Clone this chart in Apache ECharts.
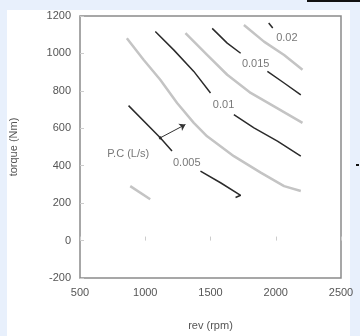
<!DOCTYPE html>
<html>
<head>
<meta charset="utf-8">
<script src="https://cdn.jsdelivr.net/npm/echarts@6/dist/echarts.min.js"></script>
<style>
  html, body { margin: 0; padding: 0; }
  #wrap { position: relative; width: 360px; height: 336px; background: #e8f0fc; overflow: hidden; }
  #paper { position: absolute; left: 7px; top: 10px; width: 343px; height: 326px; background: #fff; }
  #topbar { position: absolute; left: 307px; top: 0; width: 53px; height: 2px; background: #111; }
  #dot { position: absolute; left: 356px; top: 164px; width: 3px; height: 2px; background: #111; }
  #chart { position: absolute; left: 0; top: 0; width: 360px; height: 336px; }
</style>
</head>
<body>
<div id="wrap">
  <div id="paper"></div>
  <div id="topbar"></div>
  <div id="dot"></div>
  <div id="chart"></div>
</div>
<script>
// 坐标轴刻度
var xTicks = [500, 1000, 1500, 2000, 2500];
var yTicks = [-200, 0, 200, 400, 600, 800, 1000, 1200];

// 等油耗线 (rev, torque)
var pc005a = [[872, 721], [1115, 549], [1205, 478]];
var pc005b = [[1423, 371], [1577, 309], [1731, 242], [1692, 230]];
var grayLow = [[885, 291], [1038, 221]];
var grayA = [[859, 1081], [987, 966], [1115, 859], [1244, 735], [1372, 629], [1474, 557], [1679, 451], [1885, 363], [2064, 291], [2192, 265]];
var pc010a = [[1077, 1117], [1218, 1019], [1372, 904], [1500, 789]];
var pc010b = [[1679, 673], [1833, 602], [2013, 531], [2192, 451]];
var grayB = [[1308, 1108], [1474, 992], [1628, 886], [1808, 789], [1987, 717], [2205, 629]];
var pc015a = [[1513, 1134], [1628, 1055], [1731, 1001]];
var pc015b = [[1936, 904], [2064, 842], [2192, 779]];
var grayC = [[1756, 1152], [1910, 1063], [2064, 992], [2205, 913]];
var pc020 = [[1946, 1163], [1977, 1136]];

// 标注
var labelNames = ['0.005', '0.01', '0.015', '0.02', 'P.C (L/s)'];
var labelPos = [[1318, 417], [1600, 726], [1846, 945], [2085, 1083], [869, 465]];
var arrowFrom = [1115, 549];
var arrowTo = [1308, 620];

function darkLine(d) {
    return {
        type: 'line', data: d, symbol: 'none', silent: true,
        lineStyle: {color: '#2b2b2b', width: 1.5}
    };
}
function grayLine(d) {
    return {
        type: 'line', data: d, symbol: 'none', silent: true,
        lineStyle: {color: '#c4c4c4', width: 2.5}
    };
}

var chart = echarts.init(document.getElementById('chart'), null, {renderer: 'canvas'});
var txt = {color: '#555', fontFamily: 'Liberation Sans', fontSize: 11};

var series = [
    grayLine(grayLow), grayLine(grayA), grayLine(grayB), grayLine(grayC),
    darkLine(pc005a), darkLine(pc005b), darkLine(pc010a), darkLine(pc010b),
    darkLine(pc015a), darkLine(pc015b), darkLine(pc020),
    {
        type: 'lines', coordinateSystem: 'cartesian2d', silent: true,
        symbol: ['circle', 'arrow'], symbolSize: [3, 6],
        lineStyle: {color: '#333', width: 1, opacity: 1},
        data: [{coords: [arrowFrom, arrowTo]}]
    },
    {
        type: 'scatter', symbolSize: 0, silent: true,
        data: labelNames.map(function (n, i) { return {name: n, value: labelPos[i]}; }),
        label: {
            show: true, position: 'inside', formatter: '{b}',
            color: '#555', fontFamily: 'Liberation Sans', fontSize: 11
        }
    }
];

var option = {
    animation: false,
    backgroundColor: 'transparent',
    grid: {left: 80, right: 19, top: 16, bottom: 58, show: true, borderColor: '#8a8a8a', borderWidth: 1.5, backgroundColor: 'transparent'},
    xAxis: {
        type: 'value', min: xTicks[0], max: xTicks[xTicks.length - 1], interval: 500,
        name: 'rev (rpm)', nameLocation: 'middle', nameGap: 42, nameTextStyle: txt,
        axisLine: {show: false},
        axisTick: {show: true, inside: true, length: 4, lineStyle: {color: '#ccc'}},
        axisLabel: Object.assign({margin: 9, formatter: function (v) { return String(v); }}, txt),
        splitLine: {show: false}
    },
    yAxis: {
        type: 'value', min: yTicks[0], max: yTicks[yTicks.length - 1], interval: 200,
        name: 'torque (Nm)', nameLocation: 'middle', nameGap: 61, nameRotate: 90, nameTextStyle: txt,
        axisLine: {show: false},
        axisTick: {show: true, inside: true, length: 4, lineStyle: {color: '#ccc'}},
        axisLabel: Object.assign({margin: 9, formatter: function (v) { return String(v); }}, txt),
        splitLine: {show: false}
    },
    series: series
};
chart.setOption(option);
</script>
</body>
</html>
